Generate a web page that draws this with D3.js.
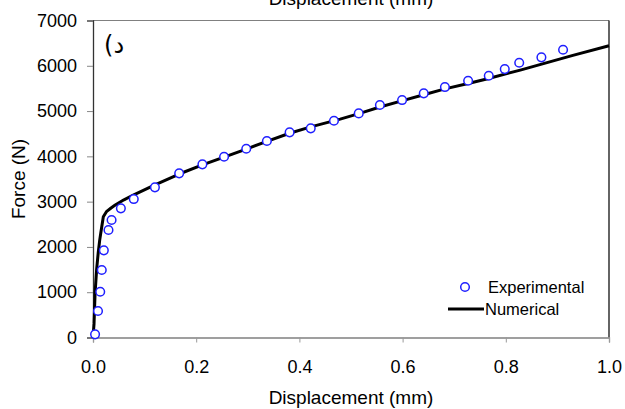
<!DOCTYPE html>
<html><head><meta charset="utf-8">
<script src="https://cdn.jsdelivr.net/npm/d3@7"></script>
<style>body{margin:0;background:#fff}svg{display:block;font-family:"Liberation Sans",Arial,sans-serif}</style>
</head><body><svg id="c" width="625" height="409"></svg>
<script>
const expX = [0.004,0.0097,0.014,0.017,0.021,0.030,0.036,0.054,0.079,0.120,0.167,0.212,0.254,0.297,0.337,0.381,0.422,0.467,0.515,0.556,0.599,0.641,0.682,0.727,0.767,0.798,0.826,0.869,0.911];
const expF = [70,585,1011,1490,1925,2373,2594,2852,3057,3316,3625,3824,3992,4168,4338,4530,4618,4786,4949,5133,5243,5391,5530,5670,5780,5927,6067,6186,6354];
const numX = [0,0.002,0.004,0.007,0.010,0.013,0.015,0.020,0.026,0.035,0.043,0.06,0.078,0.119,0.167,0.212,0.254,0.297,0.337,0.381,0.422,0.479,0.517,0.556,0.6,0.641,0.682,0.727,0.763,0.828,0.866,0.93,1.0];
const numF = [0,300,975,1500,1860,2150,2300,2667,2778,2860,2925,3040,3146,3367,3610,3810,3985,4160,4330,4510,4650,4823,4950,5090,5230,5360,5490,5610,5710,5905,6025,6230,6442];
const xTicks = [0,0.2,0.4,0.6,0.8,1.0];
const yTicks = [0,1000,2000,3000,4000,5000,6000,7000];
const seriesNames = ["Experimental","Numerical"];
const panelLabel = "(\u062F";
const xTitle = "Displacement (mm)";
const yTitle = "Force (N)";

const svg = d3.select("#c");
const x = d3.scaleLinear().domain([0,1]).range([93,609]);
const y = d3.scaleLinear().domain([0,7000]).range([337.5,20.5]);

// top (cut-off) title, as in the reference
svg.append("text").attr("x",351).attr("y",4.5).attr("text-anchor","middle")
  .attr("font-size",19).attr("fill","#000").text(xTitle);

// frame top and right
svg.append("line").attr("x1",x(0)).attr("x2",x(1)).attr("y1",y(7000)).attr("y2",y(7000)).attr("stroke","#808080").attr("stroke-width",1.2);
svg.append("line").attr("x1",x(1)).attr("x2",x(1)).attr("y1",y(7000)).attr("y2",y(0)).attr("stroke","#111").attr("stroke-width",1.3);

// x axis
const gx = svg.append("g").attr("transform",`translate(0,${y(0)})`)
  .call(d3.axisBottom(x).tickValues(xTicks).tickFormat(d3.format(".1f")).tickSize(5).tickPadding(17.5));
gx.select(".domain").attr("stroke","#808080").attr("stroke-width",1.3);
gx.selectAll(".tick line").attr("stroke","#999");
gx.selectAll("text").attr("font-size",18).attr("fill","#000").attr("font-family","Liberation Sans, Arial, sans-serif");

// y axis
const gy = svg.append("g").attr("transform",`translate(${x(0)},0)`)
  .call(d3.axisLeft(y).tickValues(yTicks).tickFormat(d3.format("d")).tickSize(6).tickPadding(10));
gy.select(".domain").attr("stroke","#333").attr("stroke-width",1.3);
gy.selectAll(".tick line").attr("stroke","#888");
gy.selectAll("text").attr("font-size",18).attr("fill","#000").attr("font-family","Liberation Sans, Arial, sans-serif");

// axis titles
svg.append("text").attr("x",351).attr("y",404).attr("text-anchor","middle").attr("font-size",19).attr("fill","#000").text(xTitle);
svg.append("text").attr("transform","translate(25,179) rotate(-90)").attr("text-anchor","middle").attr("font-size",19).attr("fill","#000").text(yTitle);

// panel label
svg.append("text").attr("x",104).attr("y",53).attr("font-size",24).attr("fill","#000").attr("font-family","DejaVu Sans, sans-serif").text(panelLabel);

// numerical line
const numData = numX.map((v,i)=>[v,numF[i]]);
svg.append("path").datum(numData)
  .attr("d",d3.line().x(d=>x(d[0])).y(d=>y(d[1])))
  .attr("fill","none").attr("stroke","#000").attr("stroke-width",3).attr("stroke-linejoin","round");

// experimental points
const expData = expX.map((v,i)=>[v,expF[i]]);
svg.append("g").selectAll("circle").data(expData).join("circle")
  .attr("cx",d=>x(d[0])).attr("cy",d=>y(d[1])).attr("r",4.3)
  .attr("fill","#fff").attr("stroke","#1f1fff").attr("stroke-width",1.5);

// legend
const lg = svg.append("g");
lg.append("circle").attr("cx",465).attr("cy",287).attr("r",4.3).attr("fill","#fff").attr("stroke","#1f1fff").attr("stroke-width",1.5);
lg.append("text").attr("x",488).attr("y",287).attr("dy","0.35em").attr("font-size",16.5).attr("fill","#000").text(seriesNames[0]);
lg.append("line").attr("x1",448).attr("x2",484).attr("y1",309).attr("y2",309).attr("stroke","#000").attr("stroke-width",3);
lg.append("text").attr("x",485).attr("y",309).attr("dy","0.35em").attr("font-size",16.5).attr("fill","#000").text(seriesNames[1]);
</script></body></html>
